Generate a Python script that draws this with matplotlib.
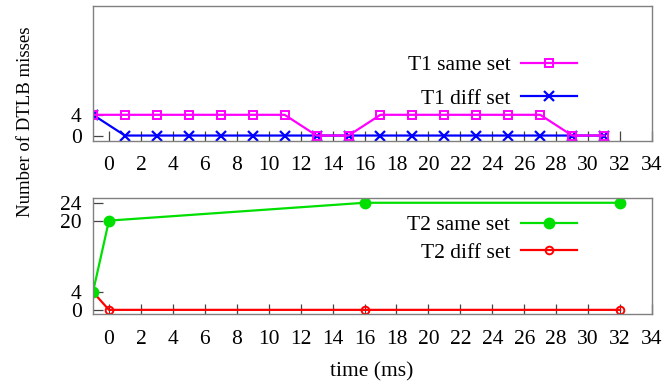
import matplotlib
matplotlib.use('Agg')
import matplotlib.pyplot as plt

plt.rcParams['font.family'] = 'Liberation Serif'
plt.rcParams['font.size'] = 15.5

# T1 sampled every 2 ms, starting at -1
t1_time = [-1, 1, 3, 5, 7, 9, 11, 13, 15, 17, 19, 21, 23, 25, 27, 29, 31]
t1_same = [4, 4, 4, 4, 4, 4, 4, 0, 0, 4, 4, 4, 4, 4, 4, 0, 0]
t1_diff = [4, 0, 0, 0, 0, 0, 0, 0, 0, 0, 0, 0, 0, 0, 0, 0, 0]

# T2 sampled at a few points only
t2_time = [-1, 0, 16, 32]
t2_same = [4, 20, 24, 24]
t2_diff = [4, 0, 0, 0]

xticks = list(range(0, 35, 2))

fig = plt.figure(figsize=(6.67, 3.85), dpi=100)
ax1 = fig.add_axes([0.1394, 0.6345, 0.8381, 0.3499])
ax2 = fig.add_axes([0.1394, 0.1836, 0.8381, 0.3013])

ax1.plot(t1_time, t1_diff, color='#0000ff', lw=1.6, marker='x', ms=6.5, mew=1.6,
         label='T1 diff set')
ax1.plot(t1_time, t1_same, color='#ff00ff', lw=1.6, marker='s', ms=6, mew=1.4,
         mfc='none', label='T1 same set')

ax2.plot(t2_time, t2_diff, color='#ff0000', lw=1.6, marker='o', ms=5.5, mew=1.4,
         mfc='none', label='T2 diff set')
ax2.plot(t2_time, t2_same, color='#00e000', lw=1.6, marker='o', ms=7.5,
         label='T2 same set')

for ax in (ax1, ax2):
    ax.set_xlim(-1, 34)
    ax.set_ylim(-1, 25)
    ax.set_xticks(xticks)
    ax.tick_params(direction='in', length=7, width=0.9, color='#444444',
                   pad=8, top=False, right=False)
    ax.tick_params(axis='x', pad=11)
    for s in ax.spines.values():
        s.set_color('#808080')
        s.set_linewidth(1.0)

ax1.set_yticks([0, 4])
ax2.set_yticks([0, 4, 20, 24])

h, l = ax1.get_legend_handles_labels()
ax1.legend(h[::-1], l[::-1], loc='center right', bbox_to_anchor=(0.866, 0.437),
           frameon=False, markerfirst=False, handlelength=2.6, handletextpad=0.5,
           labelspacing=0.63, borderpad=0, borderaxespad=0)
h, l = ax2.get_legend_handles_labels()
ax2.legend(h[::-1], l[::-1], loc='center right', bbox_to_anchor=(0.866, 0.650),
           frameon=False, markerfirst=False, handlelength=2.6, handletextpad=0.5,
           labelspacing=0.36, borderpad=0, borderaxespad=0)

fig.text(0.038, 1 - 121.6 / 385, 'Number of DTLB misses', rotation=90,
         ha='center', va='center', fontsize=13.5)
fig.text(371.7 / 667, 1 - 372 / 385, 'time (ms)', ha='center', va='center')

fig.savefig('out.png', dpi=100)
